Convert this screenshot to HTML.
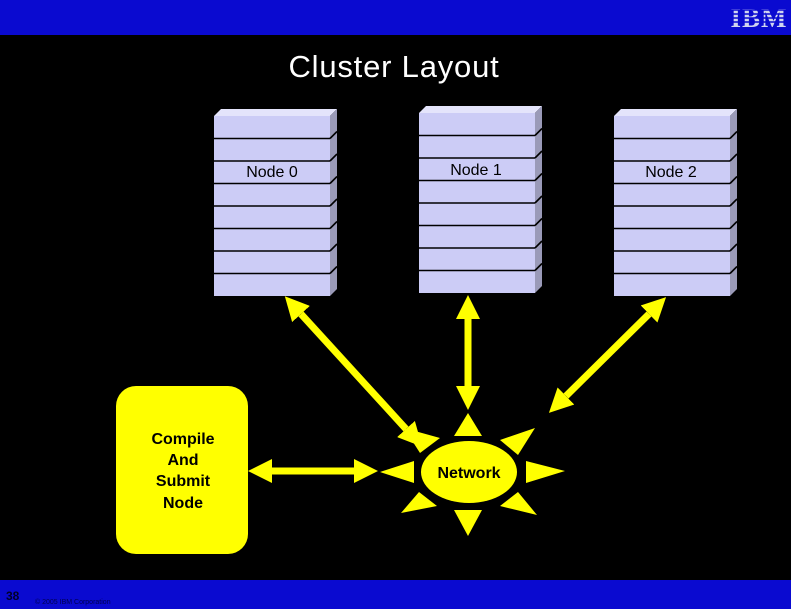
<!DOCTYPE html>
<html><head><meta charset="utf-8"><style>
html,body{margin:0;padding:0;background:#000;}
svg{display:block;}
</style></head><body>
<svg width="791" height="609" viewBox="0 0 791 609" xmlns="http://www.w3.org/2000/svg">
<defs>
<marker id="ah" viewBox="0 0 24 24" refX="0" refY="12" markerWidth="24" markerHeight="24" markerUnits="userSpaceOnUse" orient="auto-start-reverse">
<polygon points="24,12 0,0 0,24" fill="#ffff00"/>
</marker>
<g id="rack">
<polygon points="0,0 7,-7 123,-7 116,0" fill="#e4e4fb"/>
<rect x="0" y="0" width="116" height="180" fill="#ccccf6"/>
<polygon points="116,0 123,-7 123,173 116,180" fill="#9a9ab8"/>
<g stroke="#000" stroke-width="1.6">
<line x1="116" y1="22.5" x2="123" y2="15.5"/>
<line x1="116" y1="45" x2="123" y2="38"/>
<line x1="116" y1="67.5" x2="123" y2="60.5"/>
<line x1="116" y1="90" x2="123" y2="83"/>
<line x1="116" y1="112.5" x2="123" y2="105.5"/>
<line x1="116" y1="135" x2="123" y2="128"/>
<line x1="116" y1="157.5" x2="123" y2="150.5"/>
<line x1="0" y1="22.5" x2="116" y2="22.5"/>
<line x1="0" y1="45" x2="116" y2="45"/>
<line x1="0" y1="67.5" x2="116" y2="67.5"/>
<line x1="0" y1="90" x2="116" y2="90"/>
<line x1="0" y1="112.5" x2="116" y2="112.5"/>
<line x1="0" y1="135" x2="116" y2="135"/>
<line x1="0" y1="157.5" x2="116" y2="157.5"/>
</g>
</g>
</defs>

<rect x="0" y="0" width="791" height="35" fill="#0a0ad0"/>
<rect x="0" y="580" width="791" height="29" fill="#0a0ad0"/>
<text x="759" y="27" text-anchor="middle" font-family="Liberation Serif, serif" font-weight="bold" font-size="27" fill="#d0d4f0" letter-spacing="1">IBM</text>
<g stroke="#0a0ad0" stroke-width="1.5">
<line x1="730" y1="10" x2="790" y2="10"/><line x1="730" y1="14" x2="790" y2="14"/>
<line x1="730" y1="18" x2="790" y2="18"/><line x1="730" y1="22" x2="790" y2="22"/>
</g>
<text x="6" y="600" font-family="Liberation Sans, sans-serif" font-weight="bold" font-size="12" fill="#000028">38</text>
<text x="35" y="604" font-family="Liberation Sans, sans-serif" font-size="7" fill="#000050">© 2005 IBM Corporation</text>

<text x="394" y="77" text-anchor="middle" font-family="Liberation Sans, sans-serif" font-size="31" fill="#fff" letter-spacing="0.8">Cluster Layout</text>

<use href="#rack" x="214" y="116"/>
<use href="#rack" x="419" y="113"/>
<use href="#rack" x="614" y="116"/>
<g font-family="Liberation Sans, sans-serif" font-size="16" fill="#000" text-anchor="middle">
<text x="272" y="177">Node 0</text>
<text x="476" y="175">Node 1</text>
<text x="671" y="177">Node 2</text>
</g>

<rect x="116" y="386" width="132" height="168" rx="20" fill="#ffff00"/>
<g font-family="Liberation Sans, sans-serif" font-weight="bold" font-size="16" fill="#000" text-anchor="middle">
<text x="183" y="444">Compile</text>
<text x="183" y="465">And</text>
<text x="183" y="486">Submit</text>
<text x="183" y="508">Node</text>
</g>

<g stroke="#ffff00" stroke-width="7" marker-start="url(#ah)" marker-end="url(#ah)">
<line x1="301" y1="314" x2="406" y2="429"/>
<line x1="468" y1="319" x2="468" y2="386"/>
<line x1="649" y1="314" x2="566" y2="396"/>
<line x1="272" y1="471" x2="354" y2="471"/>
</g>

<g fill="#ffff00">
<ellipse cx="469" cy="472" rx="48" ry="31"/>
<polygon points="380,472 414,461 414,483"/>
<polygon points="565,471 526,461 526,483"/>
<polygon points="468,536 454,510 482,510"/>
<polygon points="468,413 454,436 482,436"/>
<polygon points="401,513 419,492 437,506"/>
<polygon points="537,515 500,506 518,492"/>
<polygon points="535,428 500,440 518,455"/>
<polygon points="404,428 440,438 420,453"/>
</g>
<text x="469" y="478" text-anchor="middle" font-family="Liberation Sans, sans-serif" font-weight="bold" font-size="16" fill="#000">Network</text>
</svg>
</body></html>
